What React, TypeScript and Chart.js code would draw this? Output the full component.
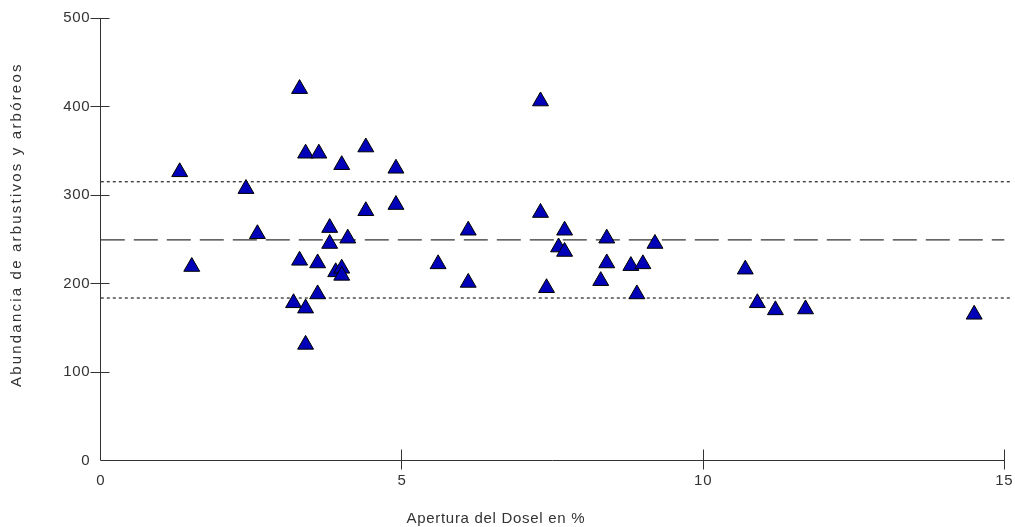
import React, { useEffect, useRef } from "react";
import { Chart, registerables } from "chart.js";

Chart.register(...registerables);

// Apertura del dosel (%) for each plot
const apertura = [
  1.31, 1.51, 2.41, 2.6, 3.3, 3.4, 3.62, 4.0, 4.4, 4.9,
  4.4, 4.9, 3.8, 4.1, 3.8, 3.3, 3.6, 3.9, 4.0, 4.0,
  3.6, 3.2, 3.4, 3.4, 5.6, 7.3, 6.1, 7.3, 7.7, 7.6,
  7.7, 8.4, 9.2, 8.4, 8.8, 9.0, 8.3, 6.1, 7.4, 8.9,
  10.7, 10.9, 11.2, 11.7, 14.5,
];
// Abundancia de arbustivos y arbóreos for each plot
const abundancia = [
  326, 219, 307, 256, 420, 347, 347, 334, 354, 330,
  282, 289, 263, 251, 245, 226, 223, 213, 217, 209,
  188, 178, 172, 131, 222, 406, 260, 280, 260, 241,
  236, 251, 245, 223, 220, 222, 203, 201, 195, 188,
  216, 178, 170, 171, 165,
];

const xTickValues = [0, 5, 10, 15];
const yTickValues = [0, 100, 200, 300, 400, 500];

const limiteSuperior = 315;
const media = 249.3;
const limiteInferior = 183.6;
const lineaDottedX = [0, 15.1];
const lineaDashedX = [0, 15];

const xTitle = "Apertura del Dosel en %";
const yTitle = "Abundancia de arbustivos y arbóreos";

const FONT_FAMILY = '"Liberation Sans", Arial, sans-serif';
const TEXT_COLOR = "#333333";
const AXIS_COLOR = "#333333";

const axesPlugin = {
  id: "axesPlugin",
  beforeDraw(chart: any) {
    chart.ctx.letterSpacing = "0.7px";
  },
  afterDraw(chart: any) {
    const { ctx, chartArea: a, scales } = chart;
    const xs = scales.x;
    const ys = scales.y;
    const L = Math.floor(a.left) + 0.5;
    const B = Math.floor(a.bottom) + 0.5;
    ctx.save();
    ctx.strokeStyle = AXIS_COLOR;
    ctx.lineWidth = 1;
    ctx.setLineDash([]);
    ctx.beginPath();
    ctx.moveTo(L, Math.floor(ys.getPixelForValue(500)) + 0.5);
    ctx.lineTo(L, B);
    ctx.lineTo(Math.floor(xs.getPixelForValue(15)) + 0.5, B);
    for (const v of yTickValues) {
      if (v === 0) continue;
      const py = Math.floor(ys.getPixelForValue(v)) + 0.5;
      ctx.moveTo(L - 10, py);
      ctx.lineTo(L + 9, py);
    }
    for (const v of xTickValues) {
      if (v === 0) continue;
      const px = Math.floor(xs.getPixelForValue(v)) + 0.5;
      ctx.moveTo(px, B - 11);
      ctx.lineTo(px, B + 9);
    }
    ctx.stroke();

    ctx.fillStyle = TEXT_COLOR;
    ctx.font = `15px ${FONT_FAMILY}`;
    ctx.textBaseline = "alphabetic";
    ctx.textAlign = "left";
    ctx.letterSpacing = "0.7px";
    ctx.fillText(xTitle, 406.5, 522.5);

    ctx.save();
    ctx.translate(21, 387);
    ctx.rotate(-Math.PI / 2);
    ctx.letterSpacing = "2.2px";
    ctx.fillText(yTitle, 0, 0);
    ctx.restore();
    ctx.restore();
  },
};

export default function App() {
  const canvasRef = useRef<HTMLCanvasElement | null>(null);

  useEffect(() => {
    const canvas = canvasRef.current;
    if (!canvas) return;
    const puntos = apertura.map((x, i) => ({ x, y: abundancia[i] }));
    const mkLine = (xsArr: number[], y: number) => xsArr.map((x) => ({ x, y }));

    const chart = new Chart(canvas, {
      type: "scatter",
      data: {
        datasets: [
          {
            label: "Parcelas",
            data: puntos,
            pointStyle: "triangle",
            pointRadius: 9.2,
            pointHoverRadius: 9.2,
            backgroundColor: "#0000b8",
            borderColor: "#000000",
            borderWidth: 1,
            clip: false,
          } as any,
          {
            label: "Media",
            data: mkLine(lineaDashedX, media),
            showLine: true,
            pointRadius: 0,
            borderColor: "#333333",
            borderWidth: 1.3,
            borderDash: [24, 9],
            clip: false,
          } as any,
          {
            label: "Límite superior",
            data: mkLine(lineaDottedX, limiteSuperior),
            showLine: true,
            pointRadius: 0,
            borderColor: "#333333",
            borderWidth: 1.3,
            borderDash: [3, 3],
            clip: false,
          } as any,
          {
            label: "Límite inferior",
            data: mkLine(lineaDottedX, limiteInferior),
            showLine: true,
            pointRadius: 0,
            borderColor: "#333333",
            borderWidth: 1.3,
            borderDash: [3, 3],
            clip: false,
          } as any,
        ],
      },
      options: {
        responsive: false,
        maintainAspectRatio: false,
        animation: false,
        events: [],
        layout: { padding: { top: 18, right: 10.7, left: 0, bottom: 0 } },
        plugins: {
          legend: { display: false },
          tooltip: { enabled: false },
          title: { display: false },
        },
        scales: {
          x: {
            type: "linear",
            min: 0,
            max: 15,
            grid: { display: false, drawTicks: false },
            border: { display: false },
            ticks: {
              padding: 11,
              color: TEXT_COLOR,
              font: { family: FONT_FAMILY, size: 15 },
              maxRotation: 0,
            },
            afterBuildTicks: (scale: any) => {
              scale.ticks = xTickValues.map((v) => ({ value: v }));
            },
            afterFit: (scale: any) => {
              scale.height = 66.5;
              scale.paddingLeft = 0;
              scale.paddingRight = 0;
            },
          },
          y: {
            type: "linear",
            min: 0,
            max: 500,
            grid: { display: false, drawTicks: false },
            border: { display: false },
            ticks: {
              padding: 10.5,
              color: TEXT_COLOR,
              font: { family: FONT_FAMILY, size: 15 },
            },
            afterBuildTicks: (scale: any) => {
              scale.ticks = yTickValues.map((v) => ({ value: v }));
            },
            afterFit: (scale: any) => {
              scale.width = 100.8;
              scale.paddingTop = 0;
              scale.paddingBottom = 0;
            },
          },
        },
      } as any,
      plugins: [axesPlugin],
    });

    return () => chart.destroy();
  }, []);

  return (
    <div
      style={{
        position: "fixed",
        left: 0,
        top: 0,
        width: 1015,
        height: 527,
        background: "#ffffff",
      }}
    >
      <canvas
        ref={canvasRef}
        width={1015}
        height={527}
        style={{ width: 1015, height: 527, display: "block" }}
      />
    </div>
  );
}
